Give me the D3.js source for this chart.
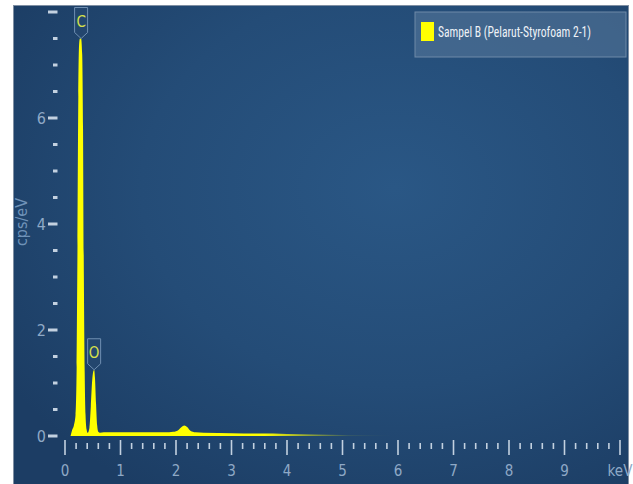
<!DOCTYPE html>
<html lang="en">
  <head>
    <meta charset="UTF-8" />
    <script src="https://cdn.jsdelivr.net/npm/d3@7/dist/d3.min.js"></script>
    <style>
      body {
        margin: 0;
        background: #fff;
      }
      svg text {
        font-family: "Liberation Sans Narrow", "DejaVu Sans Condensed", "Open Sans", sans-serif;
        font-stretch: condensed;
      }
    </style>
  </head>
  <body>
    <div id="chart"></div>
    <script>
      // spectrum (keV, cps/eV)
      const energy = [0.1, 0.13, 0.16, 0.19, 0.21, 0.225, 0.24, 0.255, 0.27, 0.29, 0.31, 0.325, 0.34, 0.355,
        0.37, 0.39, 0.41, 0.44, 0.465, 0.49, 0.51, 0.525, 0.54, 0.56, 0.58, 0.6, 0.63, 0.7, 0.9, 1.2,
        1.5, 1.8, 1.95, 2.05, 2.1, 2.15, 2.2, 2.26, 2.35, 2.5, 3.0, 3.5, 4.0, 4.5, 5.0, 5.5, 6.0];
      const cps = [0, 0.12, 0.2, 0.4, 1.3, 3.6, 6.4, 7.4, 7.5, 7.5, 7.2, 5.8, 3.0, 1.2,
        0.4, 0.12, 0.06, 0.15, 0.55, 1.05, 1.22, 1.25, 1.1, 0.6, 0.2, 0.08, 0.06, 0.07, 0.07, 0.07,
        0.07, 0.07, 0.08, 0.12, 0.17, 0.2, 0.17, 0.1, 0.07, 0.06, 0.05, 0.045, 0.04, 0.03, 0.02, 0.01, 0];

      // element markers
      const elements = ["C", "O"];
      const elementEnergy = [0.29, 0.525];
      const elementHeight = [7.5, 1.25];

      const xTicks = [0, 1, 2, 3, 4, 5, 6, 7, 8, 9, 10];
      const xTickLabels = ["0", "1", "2", "3", "4", "5", "6", "7", "8", "9", "keV"];
      const yTicks = [0, 2, 4, 6, 8];
      const yTickLabels = ["0", "2", "4", "6", ""];
      const legendLabel = "Sampel B (Pelarut-Styrofoam 2-1)";

      const W = 633, H = 484;
      const x = d3.scaleLinear().domain([0, 10]).range([65, 620]);
      const y = d3.scaleLinear().domain([0, 8]).range([436, 12]);

      const svg = d3.select("#chart").append("svg").attr("width", W).attr("height", H);
      const defs = svg.append("defs");

      const bg = defs.append("radialGradient").attr("id", "bg")
        .attr("cx", "62%").attr("cy", "38%").attr("r", "75%");
      bg.append("stop").attr("offset", "0%").attr("stop-color", "#2a5785");
      bg.append("stop").attr("offset", "55%").attr("stop-color", "#244c77");
      bg.append("stop").attr("offset", "100%").attr("stop-color", "#1c3d64");

      const fade = defs.append("linearGradient").attr("id", "fade")
        .attr("gradientUnits", "userSpaceOnUse")
        .attr("x1", x(0)).attr("x2", x(6)).attr("y1", 0).attr("y2", 0);
      fade.append("stop").attr("offset", "0.6").attr("stop-color", "#ffff00").attr("stop-opacity", 1);
      fade.append("stop").attr("offset", "0.72").attr("stop-color", "#ffff00").attr("stop-opacity", 0.55);
      fade.append("stop").attr("offset", "0.85").attr("stop-color", "#ffff00").attr("stop-opacity", 0.1);
      fade.append("stop").attr("offset", "1").attr("stop-color", "#ffff00").attr("stop-opacity", 0);

      // panel
      svg.append("rect")
        .attr("x", 13.5).attr("y", 5.5)
        .attr("width", 615).attr("height", 480)
        .attr("fill", "url(#bg)")
        .attr("stroke", "#7f8fa3");

      // spectrum
      const data = energy.map((e, i) => ({ e, v: cps[i] }));
      svg.append("path")
        .datum(data)
        .attr("fill", "url(#fade)")
        .attr("d", d3.area()
          .curve(d3.curveMonotoneX)
          .x((d) => x(d.e))
          .y0(y(0))
          .y1((d) => y(d.v)));

      // x axis ticks
      const tickColor = "#c3d1e0";
      const xMinor = d3.range(0, 50).map((i) => i / 5).filter((t, i) => i % 5 !== 0);
      svg.append("g").selectAll("line")
        .data(xMinor)
        .join("line")
        .attr("x1", (d) => x(d)).attr("x2", (d) => x(d))
        .attr("y1", 443).attr("y2", 449)
        .attr("stroke", tickColor).attr("stroke-width", 1.6);
      svg.append("g").selectAll("line")
        .data(xTicks)
        .join("line")
        .attr("x1", (d) => x(d)).attr("x2", (d) => x(d))
        .attr("y1", 440).attr("y2", 455)
        .attr("stroke", tickColor).attr("stroke-width", 1.6);
      svg.append("g").selectAll("text")
        .data(xTicks)
        .join("text")
        .attr("x", (d) => x(d))
        .attr("y", 476)
        .attr("text-anchor", "middle")
        .attr("fill", "#8fa9c6")
        .attr("font-size", 15)
        .text((d, i) => xTickLabels[i]);

      // y axis ticks
      const yMinor = d3.range(0, 17).map((i) => i / 2).filter((t, i) => i % 4 !== 0);
      svg.append("g").selectAll("line")
        .data(yMinor)
        .join("line")
        .attr("x1", 53).attr("x2", 57.5)
        .attr("y1", (d) => y(d)).attr("y2", (d) => y(d))
        .attr("stroke", tickColor).attr("stroke-width", 3);
      svg.append("g").selectAll("line")
        .data(yTicks)
        .join("line")
        .attr("x1", 48).attr("x2", 57.5)
        .attr("y1", (d) => y(d)).attr("y2", (d) => y(d))
        .attr("stroke", tickColor).attr("stroke-width", 3);
      svg.append("g").selectAll("text")
        .data(yTicks)
        .join("text")
        .attr("x", 46)
        .attr("y", (d) => y(d) + 6)
        .attr("text-anchor", "end")
        .attr("fill", "#8fa9c6")
        .attr("font-size", 16)
        .text((d, i) => yTickLabels[i]);

      svg.append("text")
        .attr("transform", `translate(27, ${y(4) - 2}) rotate(-90)`)
        .attr("text-anchor", "middle")
        .attr("fill", "#6f92b8")
        .attr("font-size", 16)
        .text("cps/eV");

      // element markers
      const marker = svg.append("g").selectAll("g")
        .data(elements)
        .join("g")
        .attr("transform", (d, i) => `translate(${x(elementEnergy[i])}, ${y(elementHeight[i])})`);
      marker.append("path")
        .attr("d", "M0,0 L-6.5,-6 L-6.5,-31 L6.5,-31 L6.5,-6 Z")
        .attr("fill", "#23466e")
        .attr("stroke", "#6f8fb2")
        .attr("stroke-width", 1);
      marker.append("text")
        .attr("x", 0).attr("y", -12)
        .attr("text-anchor", "middle")
        .attr("fill", "#d6e04a")
        .attr("font-size", 15)
        .text((d) => d);

      // legend
      const legend = svg.append("g").attr("transform", "translate(415, 12)");
      legend.append("rect")
        .attr("width", 211).attr("height", 45)
        .attr("fill", "#5a7a9c").attr("fill-opacity", 0.55)
        .attr("stroke", "#6f8aa8");
      legend.append("rect")
        .attr("x", 6).attr("y", 10)
        .attr("width", 13).attr("height", 19)
        .attr("fill", "#ffff00");
      const legendText = legend.append("text")
        .attr("fill", "#eef2f7")
        .attr("font-size", 14)
        .style("font-family", "Roboto, sans-serif")
        .text(legendLabel);
      // squeeze the label horizontally to the reference's narrow face
      const natural = legendText.node().getComputedTextLength();
      legendText.attr("transform", `translate(23, 25) scale(${153 / natural}, 1)`);
    </script>
  </body>
</html>
